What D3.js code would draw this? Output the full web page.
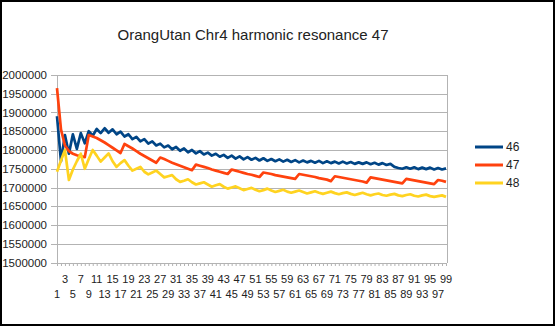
<!DOCTYPE html>
<html><head><meta charset="utf-8">
<script src="https://cdn.jsdelivr.net/npm/d3@7"></script>
<style>body{margin:0;background:#fff}svg{display:block}text{font-family:"Liberation Sans",Arial,sans-serif}</style>
</head><body>
<script>
const title = "OrangUtan Chr4 harmonic resonance 47";
const categories = d3.range(1, 100);
const seriesNames = ["46", "47", "48"];
const colors = ["#004586", "#ff420e", "#ffd320"];
const yTicks = [1500000,1550000,1600000,1650000,1700000,1750000,1800000,1850000,1900000,1950000,2000000];
const s46 = [1890000,1770000,1840000,1790000,1842000,1803000,1845000,1818000,1850000,1838000,
1856000,1845000,1858000,1846000,1855000,1842000,1849000,1836000,1842000,1829000,
1835000,1823000,1829000,1817000,1823000,1812000,1817000,1807000,1812000,1802000,
1808000,1798000,1804000,1794000,1800000,1791000,1797000,1788000,1793000,1785000,
1790000,1782000,1787000,1779000,1785000,1777000,1783000,1775000,1781000,1774000,
1779000,1772000,1778000,1771000,1776000,1770000,1775000,1769000,1774000,1768000,
1773000,1767000,1772000,1767000,1771000,1766000,1771000,1765000,1770000,1765000,
1769000,1764000,1769000,1764000,1768000,1763000,1767000,1763000,1767000,1762000,
1766000,1761000,1765000,1760000,1763000,1755000,1752000,1750000,1754000,1750000,
1754000,1749000,1753000,1749000,1753000,1748000,1752000,1748000,1751000];
const s47 = [1965000,1855000,1812000,1797000,1790000,1786000,1783000,1781000,1840000,1836000,
1832000,1826000,1820000,1813000,1806000,1799000,1792000,1816000,1810000,1804000,
1797000,1790000,1784000,1778000,1772000,1766000,1780000,1776000,1771000,1766000,
1762000,1758000,1754000,1750000,1746000,1761000,1758000,1755000,1752000,1748000,
1745000,1742000,1739000,1736000,1748000,1745000,1742000,1739000,1736000,1734000,
1731000,1728000,1740000,1738000,1736000,1733000,1731000,1729000,1727000,1725000,
1723000,1736000,1734000,1732000,1730000,1728000,1725000,1723000,1721000,1717000,
1730000,1728000,1726000,1724000,1722000,1720000,1718000,1716000,1713000,1727000,
1725000,1723000,1721000,1719000,1717000,1715000,1713000,1711000,1723000,1721000,
1719000,1717000,1715000,1713000,1711000,1709000,1720000,1718000,1715000];
const s48 = [1742000,1772000,1800000,1720000,1748000,1770000,1790000,1750000,1776000,1800000,
1785000,1769000,1780000,1791000,1770000,1755000,1765000,1773000,1758000,1745000,
1750000,1755000,1742000,1735000,1740000,1745000,1736000,1727000,1730000,1733000,
1722000,1715000,1718000,1722000,1714000,1708000,1711000,1714000,1708000,1702000,
1706000,1709000,1702000,1697000,1700000,1703000,1698000,1693000,1696000,1699000,
1694000,1690000,1693000,1697000,1692000,1688000,1691000,1694000,1689000,1686000,
1689000,1692000,1688000,1684000,1687000,1690000,1686000,1683000,1686000,1689000,
1685000,1682000,1685000,1687000,1683000,1680000,1683000,1686000,1682000,1679000,
1682000,1684000,1680000,1678000,1681000,1683000,1679000,1677000,1680000,1682000,
1678000,1676000,1679000,1681000,1677000,1675000,1677000,1679000,1675000];
const seriesValues = [s46, s47, s48];

const W = 556, H = 328;
const svg = d3.select("body").append("svg").attr("width", W).attr("height", H);
svg.append("rect").attr("x",1).attr("y",1).attr("width",W-3).attr("height",H-4)
  .attr("fill","#fff").attr("stroke","#000").attr("stroke-width",2);

const x = d3.scalePoint().domain(categories).range([57, 446]);
const y = d3.scaleLinear().domain([1500000, 2000000]).range([262.5, 75]);

svg.append("g").selectAll("line").data(yTicks).join("line")
  .attr("x1", 51).attr("x2", 447).attr("y1", d => Math.round(y(d))+0.5).attr("y2", d => Math.round(y(d))+0.5)
  .attr("stroke", "#b3b3b3").attr("stroke-width", 1);
svg.append("line").attr("x1",447.5).attr("x2",447.5).attr("y1",75).attr("y2",263).attr("stroke","#b3b3b3");
svg.append("line").attr("x1",57.5).attr("x2",57.5).attr("y1",75).attr("y2",266).attr("stroke","#b3b3b3");

svg.append("g").selectAll("text").data(yTicks).join("text")
  .attr("x", 47).attr("y", d => y(d) + 4).attr("text-anchor", "end")
  .attr("font-size", 11.5).attr("fill", "#222").text(d => d);

const xa = svg.append("g").attr("transform", "translate(0,263)")
  .call(d3.axisBottom(x).tickSize(3).tickFormat(""));
xa.select(".domain").attr("stroke", "#b3b3b3");
xa.selectAll(".tick line").attr("stroke", "#b3b3b3");

svg.append("g").selectAll("text").data(categories.filter(c => c % 4 === 3)).join("text")
  .attr("x", d => x(d)).attr("y", 283).attr("text-anchor", "middle")
  .attr("font-size", 11).attr("fill", "#222").text(d => d);
svg.append("g").selectAll("text").data(categories.filter(c => c % 4 === 1)).join("text")
  .attr("x", d => x(d)).attr("y", 297.5).attr("text-anchor", "middle")
  .attr("font-size", 11).attr("fill", "#222").text(d => d);

const line = d3.line().x((d, i) => x(categories[i])).y(d => y(d));
seriesValues.forEach((vals, k) => {
  svg.append("path").datum(vals).attr("d", line).attr("fill", "none")
    .attr("stroke", colors[k]).attr("stroke-width", 2.7).attr("stroke-linejoin", "round");
});

svg.append("text").attr("x", 253).attr("y", 40).attr("text-anchor", "middle")
  .attr("font-size", 15).attr("fill", "#222").text(title);

const lg = svg.append("g");
seriesNames.forEach((n, k) => {
  const yy = 147 + k * 18;
  lg.append("line").attr("x1", 475).attr("x2", 503).attr("y1", yy).attr("y2", yy)
    .attr("stroke", colors[k]).attr("stroke-width", 3);
  lg.append("text").attr("x", 506).attr("y", yy + 4).attr("font-size", 12).attr("fill", "#222").text(n);
});
</script>
</body></html>
